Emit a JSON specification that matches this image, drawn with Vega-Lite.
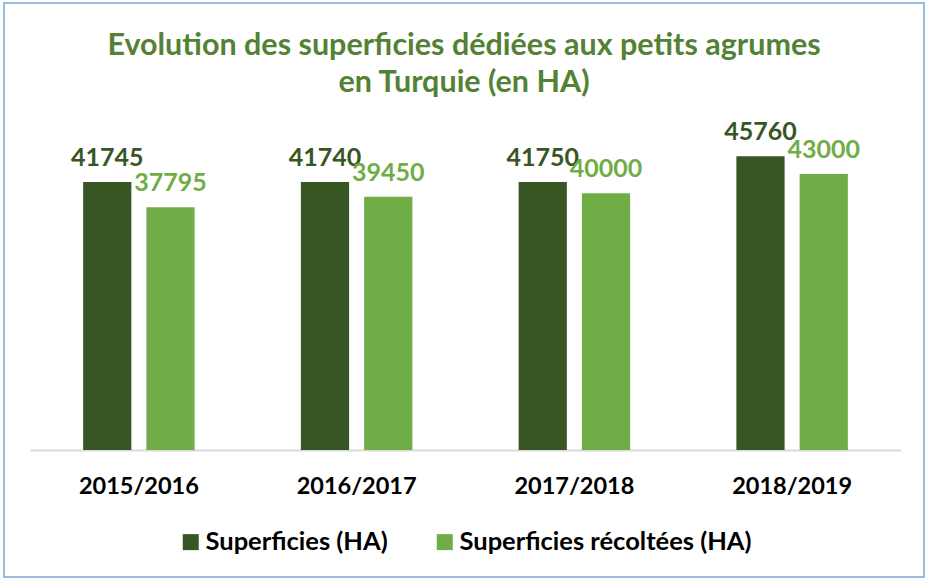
{
  "$schema": "https://vega.github.io/schema/vega-lite/v6.json",
  "width": 920,
  "height": 574,
  "padding": {"left": 4, "top": 3, "right": 2, "bottom": 3},
  "autosize": {"type": "none"},
  "background": "white",
  "title": {
    "text": ["Evolution des superficies dédiées aux petits agrumes", "en Turquie (en HA)"],
    "font": "Lato",
    "fontSize": 30.5,
    "fontWeight": "bold",
    "color": "#548235",
    "lineHeight": 37,
    "anchor": "middle",
    "baseline": "top",
    "offset": -95
  },
  "data": {
    "values": [
      {"annee": "2015/2016", "serie": "Superficies (HA)", "valeur": 41745},
      {"annee": "2015/2016", "serie": "Superficies récoltées (HA)", "valeur": 37795},
      {"annee": "2016/2017", "serie": "Superficies (HA)", "valeur": 41740},
      {"annee": "2016/2017", "serie": "Superficies récoltées (HA)", "valeur": 39450},
      {"annee": "2017/2018", "serie": "Superficies (HA)", "valeur": 41750},
      {"annee": "2017/2018", "serie": "Superficies récoltées (HA)", "valeur": 40000},
      {"annee": "2018/2019", "serie": "Superficies (HA)", "valeur": 45760},
      {"annee": "2018/2019", "serie": "Superficies récoltées (HA)", "valeur": 43000}
    ]
  },
  "encoding": {
    "x": {
      "field": "annee", "type": "nominal", "title": null,
      "scale": {"range": [26, 897], "paddingInner": 0.488, "paddingOuter": 0.244},
      "axis": {
        "labelAngle": 0, "labelFont": "Lato", "labelFontSize": 23.5, "labelFontWeight": "bold",
        "labelColor": "#000000", "labelPadding": 24, "ticks": false,
        "domainColor": "#d9d9d9", "domainWidth": 2, "offset": -127
      }
    },
    "xOffset": {
      "field": "serie", "type": "nominal",
      "scale": {"paddingInner": 0.238, "paddingOuter": 0}
    },
    "y": {
      "field": "valeur", "type": "quantitative",
      "scale": {"domain": [-19782, 69626], "nice": false, "zero": false},
      "axis": null
    }
  },
  "layer": [
    {
      "mark": {"type": "bar"},
      "encoding": {
        "y2": {"datum": 0},
        "color": {
          "field": "serie", "type": "nominal",
          "scale": {"domain": ["Superficies (HA)", "Superficies récoltées (HA)"], "range": ["#375623", "#70ad47"]},
          "legend": {
            "title": null, "orient": "none", "legendX": 174, "legendY": 526, "direction": "horizontal",
            "symbolType": "square", "symbolSize": 256, "symbolStrokeWidth": 0,
            "labelFont": "Lato", "labelFontSize": 25.5, "labelFontWeight": "bold", "labelColor": "#000000",
            "columnPadding": 44, "labelLimit": 400, "labelOffset": 2
          }
        }
      }
    },
    {
      "mark": {"type": "text", "baseline": "bottom", "dy": -11, "font": "Lato", "fontSize": 25, "fontWeight": "bold"},
      "encoding": {
        "text": {"field": "valeur", "type": "quantitative", "format": "d"},
        "color": {
          "field": "serie", "type": "nominal",
          "scale": {"domain": ["Superficies (HA)", "Superficies récoltées (HA)"], "range": ["#375623", "#70ad47"]},
          "legend": null
        }
      }
    }
  ],
  "config": {
    "view": {"stroke": "#7ba7dc", "strokeWidth": 1.5}
  }
}
